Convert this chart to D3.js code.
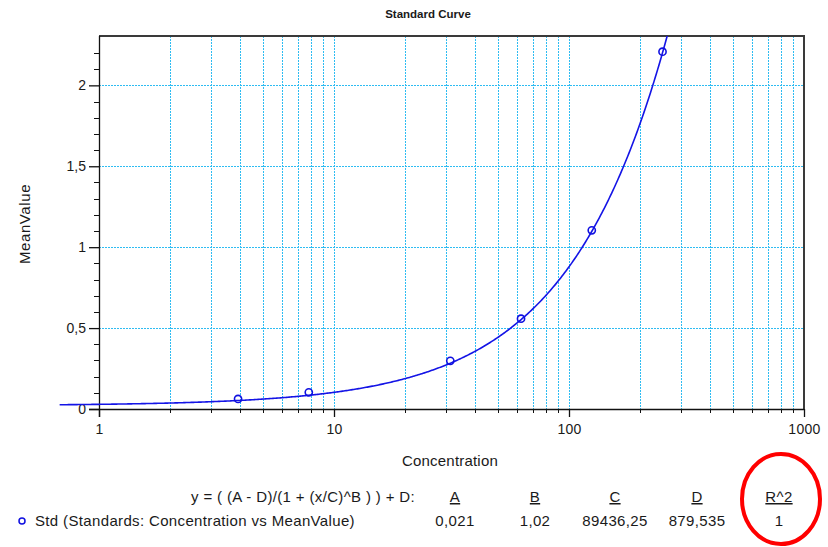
<!DOCTYPE html>
<html>
<head>
<meta charset="utf-8">
<script src="https://cdn.jsdelivr.net/npm/d3@7/dist/d3.min.js"></script>
<style>
  html, body { margin: 0; padding: 0; background: #fff; }
  svg { display: block; }
  text { font-family: "Liberation Sans", Arial, sans-serif; fill: #1a1a1a; }
</style>
</head>
<body>
<svg id="chart" width="828" height="547"></svg>
<script>
// Standards: concentration vs measured mean value
const concentrations = [3.90625, 7.8125, 31.25, 62.5, 125, 250];
const meanValues = [0.062, 0.103, 0.298, 0.558, 1.104, 2.208];

// 4-parameter logistic fit: y = ((A - D) / (1 + (x/C)^B)) + D
const paramNames = ["A", "B", "C", "D", "R^2"];
const paramValues = [0.021, 1.02, 89436.25, 879.535, 1];
const paramLabels = ["0,021", "1,02", "89436,25", "879,535", "1"];

// Range of concentrations over which the fitted curve is drawn
const curveRange = [0.68, 1000];

const xTickValues = [1, 10, 100, 1000];
const yTickValues = [0, 0.5, 1, 1.5, 2];
const yTickLabels = ["0", "0,5", "1", "1,5", "2"];

const svg = d3.select("#chart");
const W = 828, H = 547;
const plot = { left: 99, right: 804, top: 36, bottom: 409 };

svg.append("rect").attr("width", W).attr("height", H).attr("fill", "#fff");

const x = d3.scaleLog().domain([1, 1000]).range([plot.left, plot.right]);
const y = d3.scaleLinear().domain([0, 2.305]).range([plot.bottom, plot.top]);

// Minor log ticks (2..9 per decade)
const minorX = [];
[1, 10, 100].forEach(dec => { for (let k = 2; k <= 9; k++) minorX.push(k * dec); });
const minorY = d3.range(0, 23).map(i => i / 10).filter(v => Math.abs(v * 2 - Math.round(v * 2)) > 1e-6);

// Dotted grid
const gridColor = "#2ebcf2";
const grid = svg.append("g");
grid.selectAll("line.vx")
  .data(minorX.concat([10, 100]))
  .join("line")
  .attr("x1", d => Math.round(x(d)) + 0.5).attr("x2", d => Math.round(x(d)) + 0.5)
  .attr("y1", plot.top).attr("y2", plot.bottom)
  .attr("stroke", gridColor).attr("stroke-width", 1).attr("stroke-dasharray", "2,1");
grid.selectAll("line.hy")
  .data(yTickValues.filter(v => v > 0))
  .join("line")
  .attr("y1", d => Math.round(y(d)) + 0.5).attr("y2", d => Math.round(y(d)) + 0.5)
  .attr("x1", plot.left).attr("x2", plot.right)
  .attr("stroke", gridColor).attr("stroke-width", 1).attr("stroke-dasharray", "2,1");

// Frame (top and right)
svg.append("path")
  .attr("d", `M${plot.left},${plot.top} H${plot.right} V${plot.bottom}`)
  .attr("fill", "none").attr("stroke", "#3a3a3a").attr("stroke-width", 2);

const tickFont = "'Liberation Sans', Arial, sans-serif";

// X axis
const xAxis = svg.append("g").attr("transform", `translate(0,${plot.bottom})`)
  .call(d3.axisBottom(x).tickValues(xTickValues).tickFormat(d3.format("d")).tickSize(8).tickPadding(7));
xAxis.select(".domain").remove();
xAxis.append("line").attr("x1", plot.left - 10).attr("x2", plot.right).attr("y1", 0.5).attr("y2", 0.5)
  .attr("stroke", "#111").attr("stroke-width", 1.3);
xAxis.selectAll(".minor").data(minorX).join("line").attr("class", "minor")
  .attr("x1", d => Math.round(x(d)) + 0.5).attr("x2", d => Math.round(x(d)) + 0.5)
  .attr("y1", 0).attr("y2", 4).attr("stroke", "#111");
xAxis.selectAll(".tick line").attr("stroke", "#111").attr("stroke-width", 1.3);
xAxis.selectAll(".tick text").attr("font-size", 14).attr("fill", "#1c1c3a")
  .style("font-family", tickFont).style("letter-spacing", "0.3px");

// Y axis
const yAxis = svg.append("g").attr("transform", `translate(${plot.left},0)`)
  .call(d3.axisLeft(y).tickValues(yTickValues).tickFormat((d, i) => yTickLabels[i]).tickSize(10).tickPadding(3));
yAxis.select(".domain").remove();
yAxis.append("line").attr("x1", 0.5).attr("x2", 0.5).attr("y1", plot.top).attr("y2", plot.bottom + 8)
  .attr("stroke", "#111").attr("stroke-width", 1.3);
yAxis.selectAll(".minor").data(minorY).join("line").attr("class", "minor")
  .attr("y1", d => Math.round(y(d)) + 0.5).attr("y2", d => Math.round(y(d)) + 0.5)
  .attr("x1", -5).attr("x2", 0).attr("stroke", "#111");
yAxis.selectAll(".tick line").attr("stroke", "#111").attr("stroke-width", 1.3);
yAxis.selectAll(".tick text").attr("font-size", 14).attr("fill", "#1c1c3a")
  .style("font-family", tickFont);

// Fitted curve
const [A, B, C, D] = paramValues;
const fit = c => (A - D) / (1 + Math.pow(c / C, B)) + D;
const l0 = Math.log10(curveRange[0]), l1 = Math.log10(curveRange[1]);
const curvePts = d3.range(0, 601).map(i => Math.pow(10, l0 + i / 600 * (l1 - l0)));
svg.append("clipPath").attr("id", "clip")
  .append("rect").attr("x", 0).attr("y", plot.top).attr("width", plot.right).attr("height", plot.bottom - plot.top);
svg.append("path")
  .datum(curvePts)
  .attr("clip-path", "url(#clip)")
  .attr("d", d3.line().x(d => x(d)).y(d => y(fit(d))))
  .attr("fill", "none").attr("stroke", "#1414e6").attr("stroke-width", 1.6);

// Standard points
svg.append("g").selectAll("circle")
  .data(concentrations.map((c, i) => [c, meanValues[i]]))
  .join("circle")
  .attr("cx", d => x(d[0])).attr("cy", d => y(d[1])).attr("r", 3.6)
  .attr("fill", "none").attr("stroke", "#1010e0").attr("stroke-width", 1.6);

// Titles
svg.append("text").attr("x", 428).attr("y", 18).attr("text-anchor", "middle")
  .attr("font-size", 11.5).attr("font-weight", "bold").text("Standard Curve");
svg.append("text").attr("x", 450).attr("y", 466).attr("text-anchor", "middle")
  .attr("font-size", 15).style("letter-spacing", "0.2px").text("Concentration");
svg.append("text").attr("transform", "translate(30,224) rotate(-90)").attr("text-anchor", "middle")
  .attr("font-size", 15).style("letter-spacing", "0.6px").text("MeanValue");

// Legend with fit parameters
const colX = [455, 535, 615, 697, 779];
const row1 = 502, row2 = 526;
const legendStyle = sel => sel.attr("font-size", 15).style("letter-spacing", "0.35px");
svg.append("text").attr("x", 415).attr("y", row1).attr("text-anchor", "end")
  .call(legendStyle).text("y = ( (A - D)/(1 + (x/C)^B ) ) + D:");
svg.append("g").selectAll("text").data(paramNames).join("text")
  .attr("x", (d, i) => colX[i]).attr("y", row1).attr("text-anchor", "middle")
  .call(legendStyle).attr("text-decoration", "underline").text(d => d);
svg.append("g").selectAll("text").data(paramLabels).join("text")
  .attr("x", (d, i) => colX[i]).attr("y", row2).attr("text-anchor", "middle")
  .call(legendStyle).text(d => d);
svg.append("circle").attr("cx", 22).attr("cy", row2 - 5).attr("r", 3)
  .attr("fill", "none").attr("stroke", "#1010e0").attr("stroke-width", 1.5);
svg.append("text").attr("x", 35).attr("y", row2)
  .call(legendStyle).text("Std (Standards: Concentration vs MeanValue)");

// Highlight around R^2 column
svg.append("ellipse").attr("cx", colX[4] + 2).attr("cy", 499).attr("rx", 39).attr("ry", 45)
  .attr("fill", "none").attr("stroke", "#ff0000").attr("stroke-width", 4);
</script>
</body>
</html>
